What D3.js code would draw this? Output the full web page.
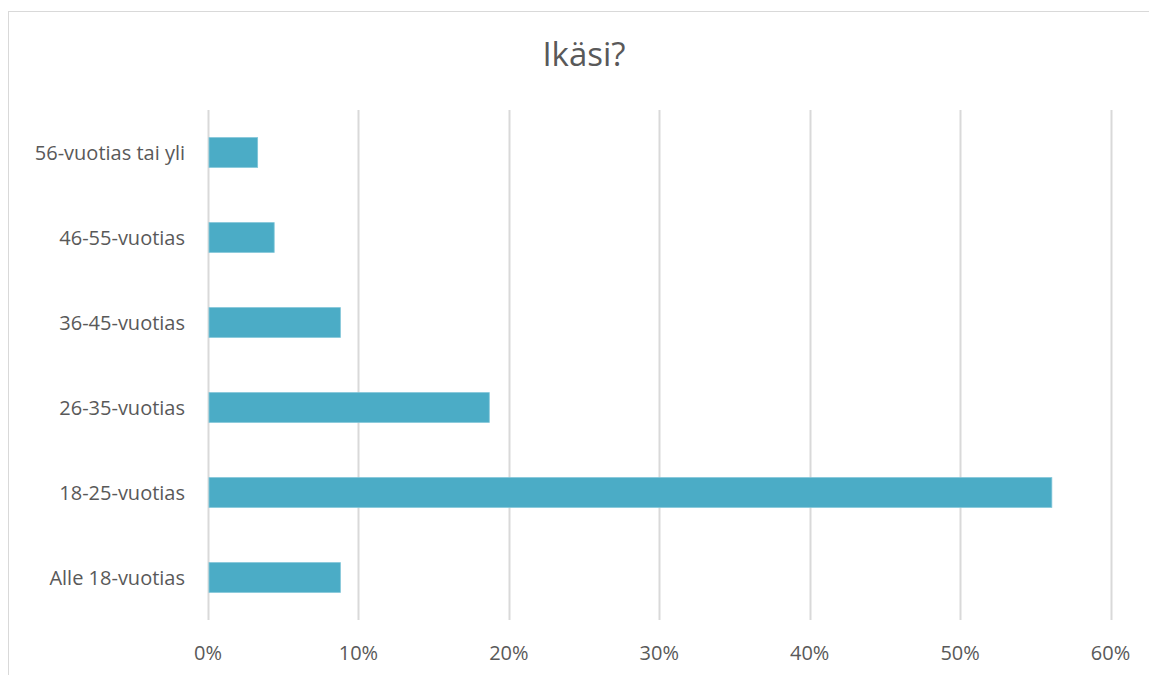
<!DOCTYPE html>
<html><head><meta charset="utf-8">
<script src="https://cdn.jsdelivr.net/npm/d3@7"></script>
<style>body{margin:0;background:#fff;}svg{display:block;}text{font-variant-ligatures:none;}</style>
</head><body>
<script>
const categories = ["56-vuotias tai yli","46-55-vuotias","36-45-vuotias","26-35-vuotias","18-25-vuotias","Alle 18-vuotias"];
const values = [3.3, 4.4, 8.8, 18.7, 56.1, 8.8];
const xTicks = [0,10,20,30,40,50,60];
const title = "Ikäsi?";

(function(){
const W=1149,H=675;
const svg=d3.select("body").append("svg").attr("width",W).attr("height",H);
svg.append("rect").attr("x",8.5).attr("y",11.5).attr("width",W+10).attr("height",H+10)
  .attr("fill","#fff").attr("stroke","#D9D9D9").attr("stroke-width",1);

const pLeft=208,pRight=1110.5,pTop=110,pBottom=620;
const x=d3.scaleLinear().domain([0,60]).range([pLeft,pRight]);
const y=d3.scaleBand().domain(categories).range([pTop,pBottom]).paddingInner(0.65).paddingOuter(0.325);
const font="'Open Sans', 'Liberation Sans', sans-serif";

svg.append("g").selectAll("line").data(xTicks).join("line")
  .attr("x1",d=>Math.round(x(d))+0.5).attr("x2",d=>Math.round(x(d))+0.5)
  .attr("y1",pTop).attr("y2",pBottom).attr("stroke","#D9D9D9").attr("stroke-width",2);

svg.append("g").selectAll("rect").data(values).join("rect")
  .attr("x",x(0)+1).attr("y",(d,i)=>y(categories[i]))
  .attr("width",d=>x(d)-x(0)-1).attr("height",y.bandwidth())
  .attr("fill","#4BACC6").attr("stroke","#7FC5D8").attr("stroke-width",0.8);

svg.append("g").selectAll("text").data(categories).join("text")
  .attr("x",pLeft-23).attr("y",d=>y(d)+y.bandwidth()/2).attr("dy","0.36em")
  .attr("text-anchor","end").attr("font-family",font).attr("font-size",20)
  .attr("fill","#595959").text(d=>d);

svg.append("g").selectAll("text").data(xTicks).join("text")
  .attr("x",d=>x(d)).attr("y",660).attr("text-anchor","middle")
  .attr("font-family",font).attr("font-size",20).attr("fill","#595959").text(d=>d+"%");

svg.append("text").attr("x",584).attr("y",66).attr("text-anchor","middle")
  .attr("font-family",font).attr("font-size",33).attr("fill","#595959").text(title);
})();
</script>
</body></html>
